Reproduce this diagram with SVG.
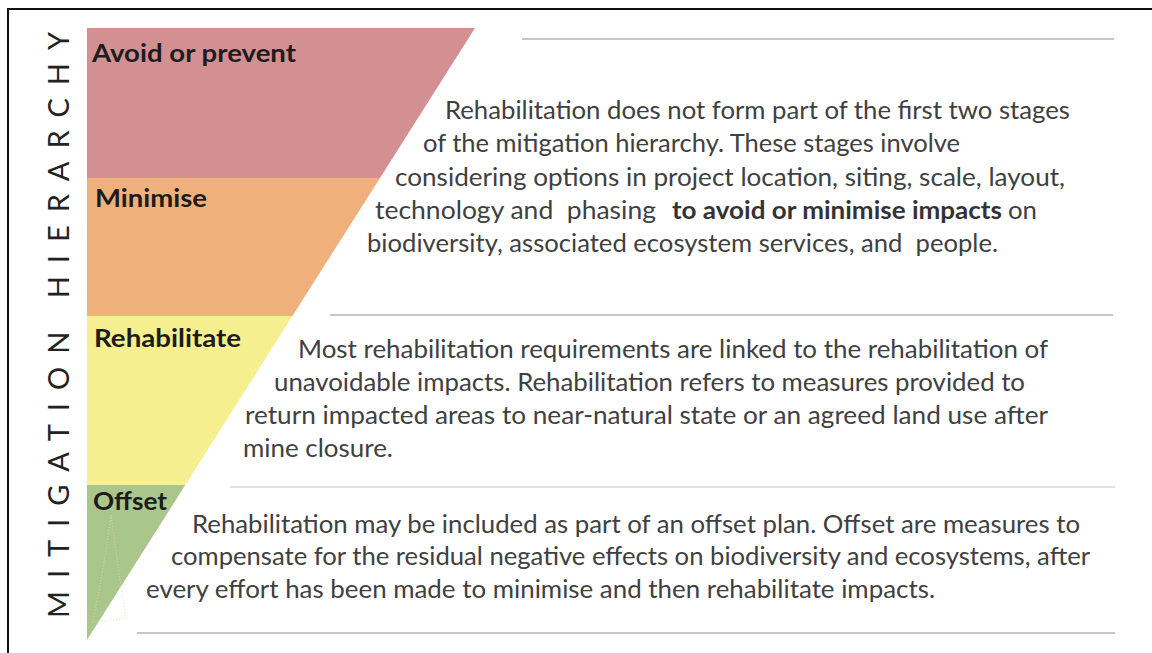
<svg xmlns="http://www.w3.org/2000/svg" width="1152" height="653" viewBox="0 0 1152 653">
  <style>
    .body { font-family: "Lato", "Open Sans", sans-serif; font-size: 24.5px; fill: #404040; white-space: pre; }
    .strong { font-weight: 700; fill: #333333; }
    .label { font-family: "Lato", "Open Sans", sans-serif; font-size: 25px; font-weight: 700; fill: #1c1c1c; }
    .title { font-family: "Lato", "Open Sans", sans-serif; font-size: 29px; font-weight: 400; fill: #222222; }
    .rule { stroke: #c6c6c6; stroke-width: 2; fill: none; }
    .rule-faint { stroke: #e2e2e2; stroke-width: 2; fill: none; }
  </style>

  <rect x="0" y="0" width="1152" height="653" fill="#ffffff"/>

  <!-- frame: top and left edges only -->
  <g id="frame" stroke="#111111" stroke-width="2" fill="none">
    <line x1="7" y1="9" x2="1152" y2="9"/>
    <line x1="8" y1="8" x2="8" y2="653"/>
  </g>

  <!-- vertical caption -->
  <g id="title">
    <text class="title" transform="translate(69,618) rotate(-90)" textLength="586" lengthAdjust="spacing">MITIGATION HIERARCHY</text>
  </g>

  <!-- horizontal rules between the stages -->
  <g id="connectors">
    <line class="rule" x1="522" y1="39" x2="1114" y2="39"/>
    <line class="rule" x1="330" y1="315" x2="1113" y2="315"/>
    <line class="rule-faint" x1="230" y1="487" x2="1115" y2="487"/>
    <line class="rule" x1="137" y1="633" x2="1115" y2="633"/>
  </g>

  <!-- stage 1 -->
  <g id="stage-avoid">
    <polygon points="87,28 475,28 380,178 87,178" fill="#D48F93"/>
    <text class="label" x="92" y="62" textLength="204" lengthAdjust="spacingAndGlyphs">Avoid or prevent</text>
    <text class="body" x="445" y="119" textLength="625" lengthAdjust="spacingAndGlyphs">Rehabilitation does not form part of the first two stages</text>
    <text class="body" x="423" y="152" textLength="537" lengthAdjust="spacingAndGlyphs">of the mitigation hierarchy. These stages involve</text>
  </g>

  <!-- stage 2 -->
  <g id="stage-minimise">
    <polygon points="87,178 380,178 292.4,316 87,316" fill="#F0B07B"/>
    <text class="label" x="95" y="207" textLength="112" lengthAdjust="spacingAndGlyphs">Minimise</text>
    <text class="body" x="395" y="186" textLength="670" lengthAdjust="spacingAndGlyphs">considering options in project location, siting, scale, layout,</text>
    <text class="body" x="375" y="219" textLength="281" lengthAdjust="spacingAndGlyphs">technology and  phasing</text>
    <text class="body strong" x="672" y="219" textLength="330" lengthAdjust="spacingAndGlyphs">to avoid or minimise impacts</text>
    <text class="body" x="1008" y="219" textLength="29" lengthAdjust="spacingAndGlyphs">on</text>
    <text class="body" x="367" y="252" textLength="631" lengthAdjust="spacingAndGlyphs">biodiversity, associated ecosystem services, and  people.</text>
  </g>

  <!-- stage 3 -->
  <g id="stage-rehabilitate">
    <polygon points="87,316 292.4,316 185.3,485 87,485" fill="#F5EF8F"/>
    <text class="label" x="94" y="347" textLength="147" lengthAdjust="spacingAndGlyphs">Rehabilitate</text>
    <text class="body" x="298" y="358" textLength="750" lengthAdjust="spacingAndGlyphs">Most rehabilitation requirements are linked to the rehabilitation of</text>
    <text class="body" x="274" y="391" textLength="751" lengthAdjust="spacingAndGlyphs">unavoidable impacts. Rehabilitation refers to measures provided to</text>
    <text class="body" x="245" y="424" textLength="803" lengthAdjust="spacingAndGlyphs">return impacted areas to near-natural state or an agreed land use after</text>
    <text class="body" x="243" y="457" textLength="150" lengthAdjust="spacingAndGlyphs">mine closure.</text>
  </g>

  <!-- stage 4 -->
  <g id="stage-offset">
    <polygon points="87,485 185.3,485 87,640" fill="#AAC68B"/>
    <polygon points="111,515 106,550 100,585 93,622 126,618 120,580 115,545" fill="none" stroke="#dedcae" stroke-width="1.2" stroke-dasharray="1 2" opacity="0.8"/>
    <text class="label" x="93" y="510" textLength="74" lengthAdjust="spacingAndGlyphs">Offset</text>
    <text class="body" x="192" y="533" textLength="888" lengthAdjust="spacingAndGlyphs">Rehabilitation may be included as part of an offset plan. Offset are measures to</text>
    <text class="body" x="171" y="565" textLength="919" lengthAdjust="spacingAndGlyphs">compensate for the residual negative effects on biodiversity and ecosystems, after</text>
    <text class="body" x="146" y="598" textLength="789" lengthAdjust="spacingAndGlyphs">every effort has been made to minimise and then rehabilitate impacts.</text>
  </g>
</svg>
